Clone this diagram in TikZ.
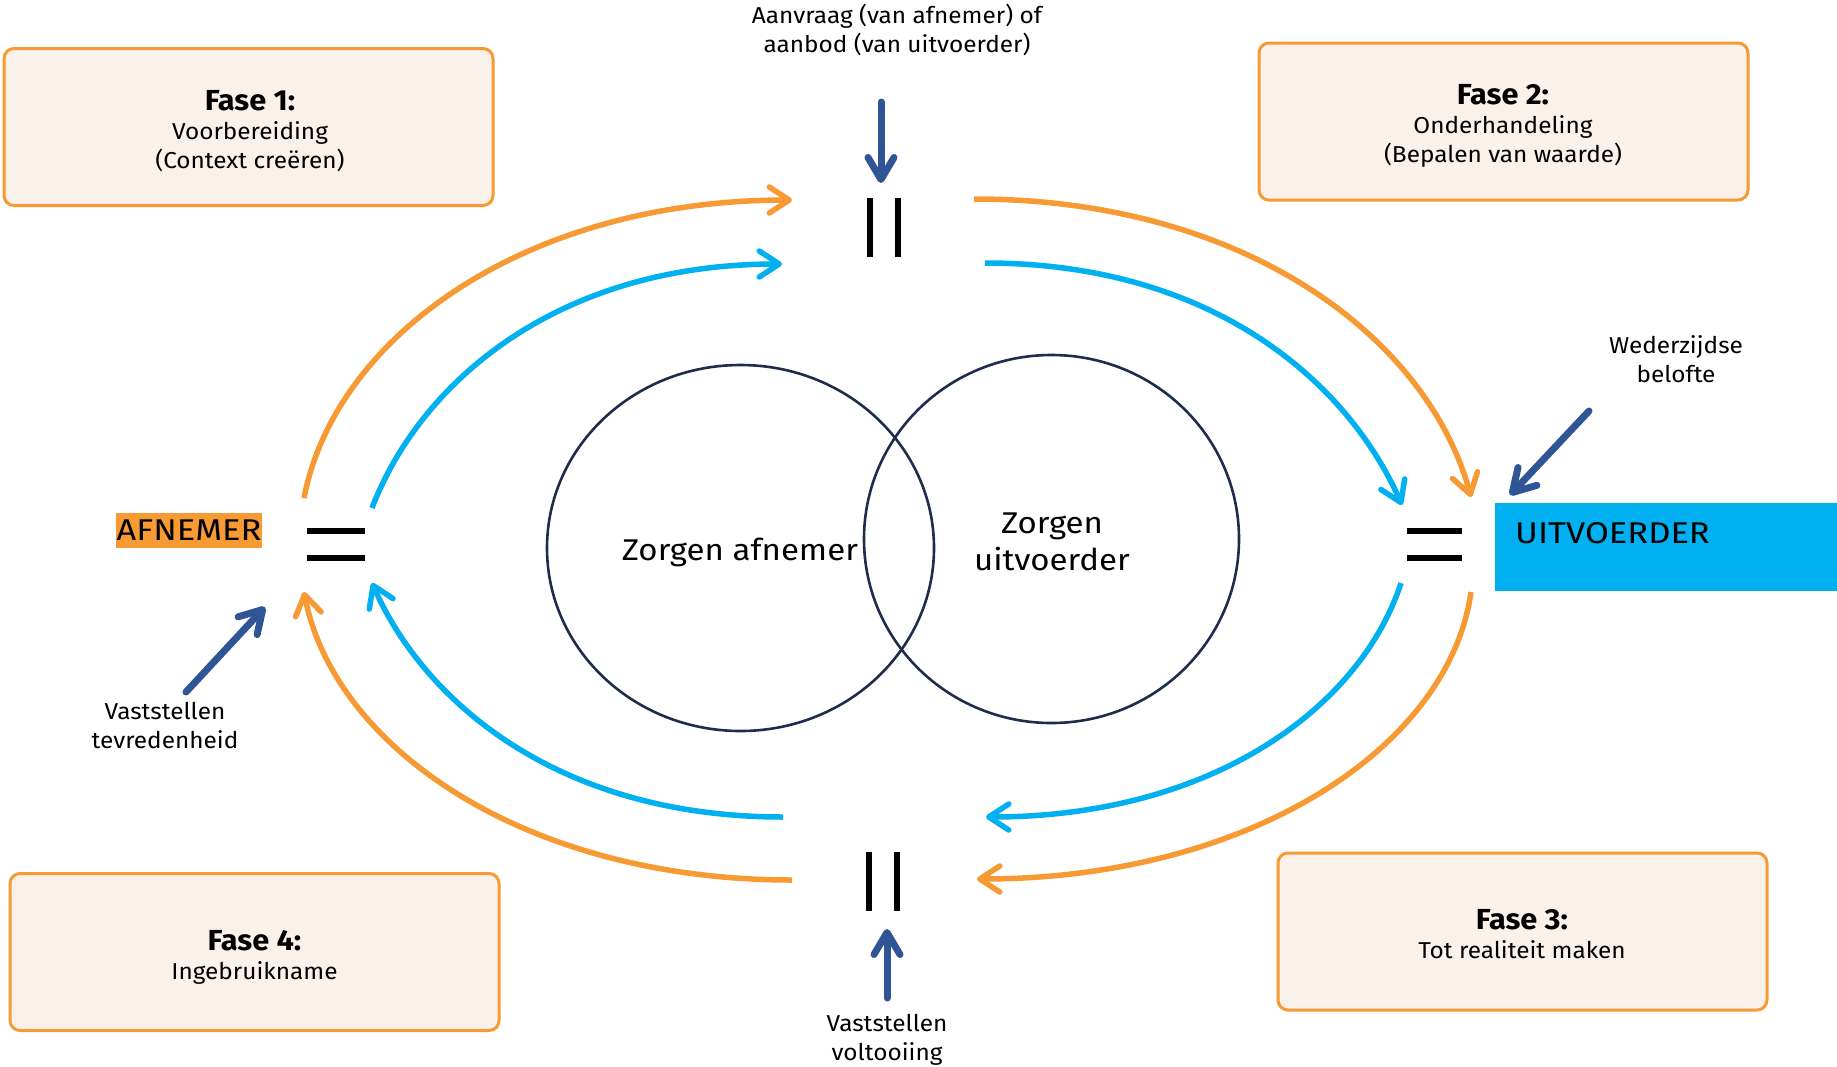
\documentclass[tikz,border=0pt]{standalone}
\usepackage{fontspec}
\setmainfont{Fira Sans}[FakeStretch=1.06]
\newfontfamily\widesans{Fira Sans}[FakeStretch=1.10]
\newfontfamily\capsans{Fira Sans}[FakeStretch=1.15]
\usetikzlibrary{arrows.meta,shapes.geometric}
\definecolor{arcorange}{RGB}{247,154,51}
\definecolor{arcblue}{RGB}{0,176,240}
\definecolor{pointerblue}{RGB}{47,85,151}
\definecolor{boxfill}{RGB}{251,241,235}
\definecolor{ringline}{RGB}{31,45,77}
\newcommand{\lblstack}[1]{\begin{tabular}[t]{@{}c@{}}#1\end{tabular}}
\begin{document}
\begin{tikzpicture}[x=1pt, y=-1pt,
  fasebox/.style={draw=arcorange, line width=3pt, fill=boxfill, rounded corners=10pt,
    minimum width=489pt, minimum height=157pt, inner sep=0pt},
  lbl/.style={font=\fontsize{23}{29}\selectfont, inner sep=0pt, anchor=base},
  big/.style={font=\widesans\fontsize{30}{37}\selectfont, inner sep=0pt, anchor=base},
  ring/.style={draw=ringline, line width=2.6pt, ellipse, inner sep=0pt},
  bar/.style={line width=6.5pt, black},
  flow/.style={line width=5.5pt,
    -{Straight Barb[length=20pt, width=26pt, line cap=round, line join=round]}},
  pointer/.style={draw=pointerblue, line width=7pt, line cap=round,
    -{Straight Barb[length=22pt, width=26pt, line cap=round, line join=round]}}
]
\useasboundingbox (0,0) rectangle (1837,1066);

% phase boxes
\node[fasebox] (fase1) at (248.5,127) {};
\node[fasebox] (fase2) at (1503.5,121.5) {};
\node[fasebox] (fase3) at (1522.5,931.5) {};
\node[fasebox] (fase4) at (254.5,952) {};
\node[lbl] (fase1txt) at (250,110)
  {\lblstack{{\fontsize{29}{29}\selectfont\bfseries Fase 1:}\\Voorbereiding\\(Context creëren)}};
\node[lbl] (fase2txt) at (1503,104)
  {\lblstack{{\fontsize{29}{29}\selectfont\bfseries Fase 2:}\\Onderhandeling\\(Bepalen van waarde)}};
\node[lbl] (fase3txt) at (1522,929)
  {\lblstack{{\fontsize{29}{29}\selectfont\bfseries Fase 3:}\\Tot realiteit maken}};
\node[lbl] (fase4txt) at (254.5,950)
  {\lblstack{{\fontsize{29}{29}\selectfont\bfseries Fase 4:}\\Ingebruikname}};

% side labels
\node[lbl] (request) at (897,23) {\lblstack{Aanvraag (van afnemer) of\\aanbod (van uitvoerder)}};
\node[lbl] (promise) at (1676,353) {\lblstack{Wederzijdse\\belofte}};
\node[lbl] (satisfied) at (165,719) {\lblstack{Vaststellen\\tevredenheid}};
\node[lbl] (completed) at (887,1031) {\lblstack{Vaststellen\\voltooiing}};

% the two concerns
\node[ring, minimum width=387pt, minimum height=366pt] (ringA) at (740.5,548) {};
\node[ring, minimum width=375pt, minimum height=368pt] (ringU) at (1051.5,539) {};
\node[big] (careA) at (740,560) {Zorgen afnemer};
\node[big] (careU) at (1052,533) {\lblstack{Zorgen\\uitvoerder}};

% parties
\node[anchor=base, fill=arcorange, font=\capsans\fontsize{30}{36}\selectfont,
  inner xsep=1pt, inner ysep=0pt, text height=27pt, text depth=8pt] (afnemer) at (189,540) {AFNEMER};
\node[fill=arcblue, minimum width=342pt, minimum height=88pt, inner sep=0pt] (uitvoerder) at (1666,547) {};
\node[anchor=base west, font=\capsans\fontsize{30}{36}\selectfont, inner sep=0pt] (uitvoerdertxt) at (1515,543) {UITVOERDER};

% equality and separation marks
\draw[bar] (307,531) -- (365,531) (307,558) -- (365,558);
\draw[bar] (1407,531) -- (1462,531) (1407,558) -- (1462,558);
\draw[bar] (870,198) -- (870,257) (898,198) -- (898,257);
\draw[bar] (869,852) -- (869,911) (897,852) -- (897,911);

% cycle end points
\coordinate (otlS) at (304,498);  \coordinate (otlE) at (792,200);
\coordinate (btlS) at (372,508);  \coordinate (btlE) at (782,264);
\coordinate (otrS) at (974,199);  \coordinate (otrE) at (1471,497);
\coordinate (btrS) at (985,263);  \coordinate (btrE) at (1402,505);
\coordinate (bbrS) at (1401,583); \coordinate (bbrE) at (986,817);
\coordinate (obrS) at (1471,592); \coordinate (obrE) at (977,879);
\coordinate (bblS) at (783,817);  \coordinate (bblE) at (372,583);
\coordinate (oblS) at (792,880);  \coordinate (oblE) at (304,592);

% orange and blue cycles
\draw[flow, arcorange] (otlS) .. controls (335,337) and (524,200) .. (otlE);
\draw[flow, arcblue]   (btlS) .. controls (420,383) and (556,264) .. (btlE);
\draw[flow, arcorange] (otrS) .. controls (1247,199) and (1428,339) .. (otrE);
\draw[flow, arcblue]   (btrS) .. controls (1214,263) and (1348,383) .. (btrE);
\draw[flow, arcblue]   (bbrS) .. controls (1361,706) and (1214,817) .. (bbrE);
\draw[flow, arcorange] (obrS) .. controls (1449,748) and (1249,879) .. (obrE);
\draw[flow, arcblue]   (bblS) .. controls (557,817) and (424,701) .. (bblE);
\draw[flow, arcorange] (oblS) .. controls (524,880) and (334,747) .. (oblE);

% pointers from the labels
\coordinate (reqS) at (881,102);   \coordinate (reqE) at (881,183);
\coordinate (proS) at (1589,411);  \coordinate (proE) at (1510,495);
\coordinate (satS) at (186,692);   \coordinate (satE) at (265,607);
\coordinate (comS) at (887,998);   \coordinate (comE) at (887,929);
\draw[pointer] (reqS) -- (reqE);
\draw[pointer] (proS) -- (proE);
\draw[pointer] (satS) -- (satE);
\draw[pointer] (comS) -- (comE);
\end{tikzpicture}
\end{document}
